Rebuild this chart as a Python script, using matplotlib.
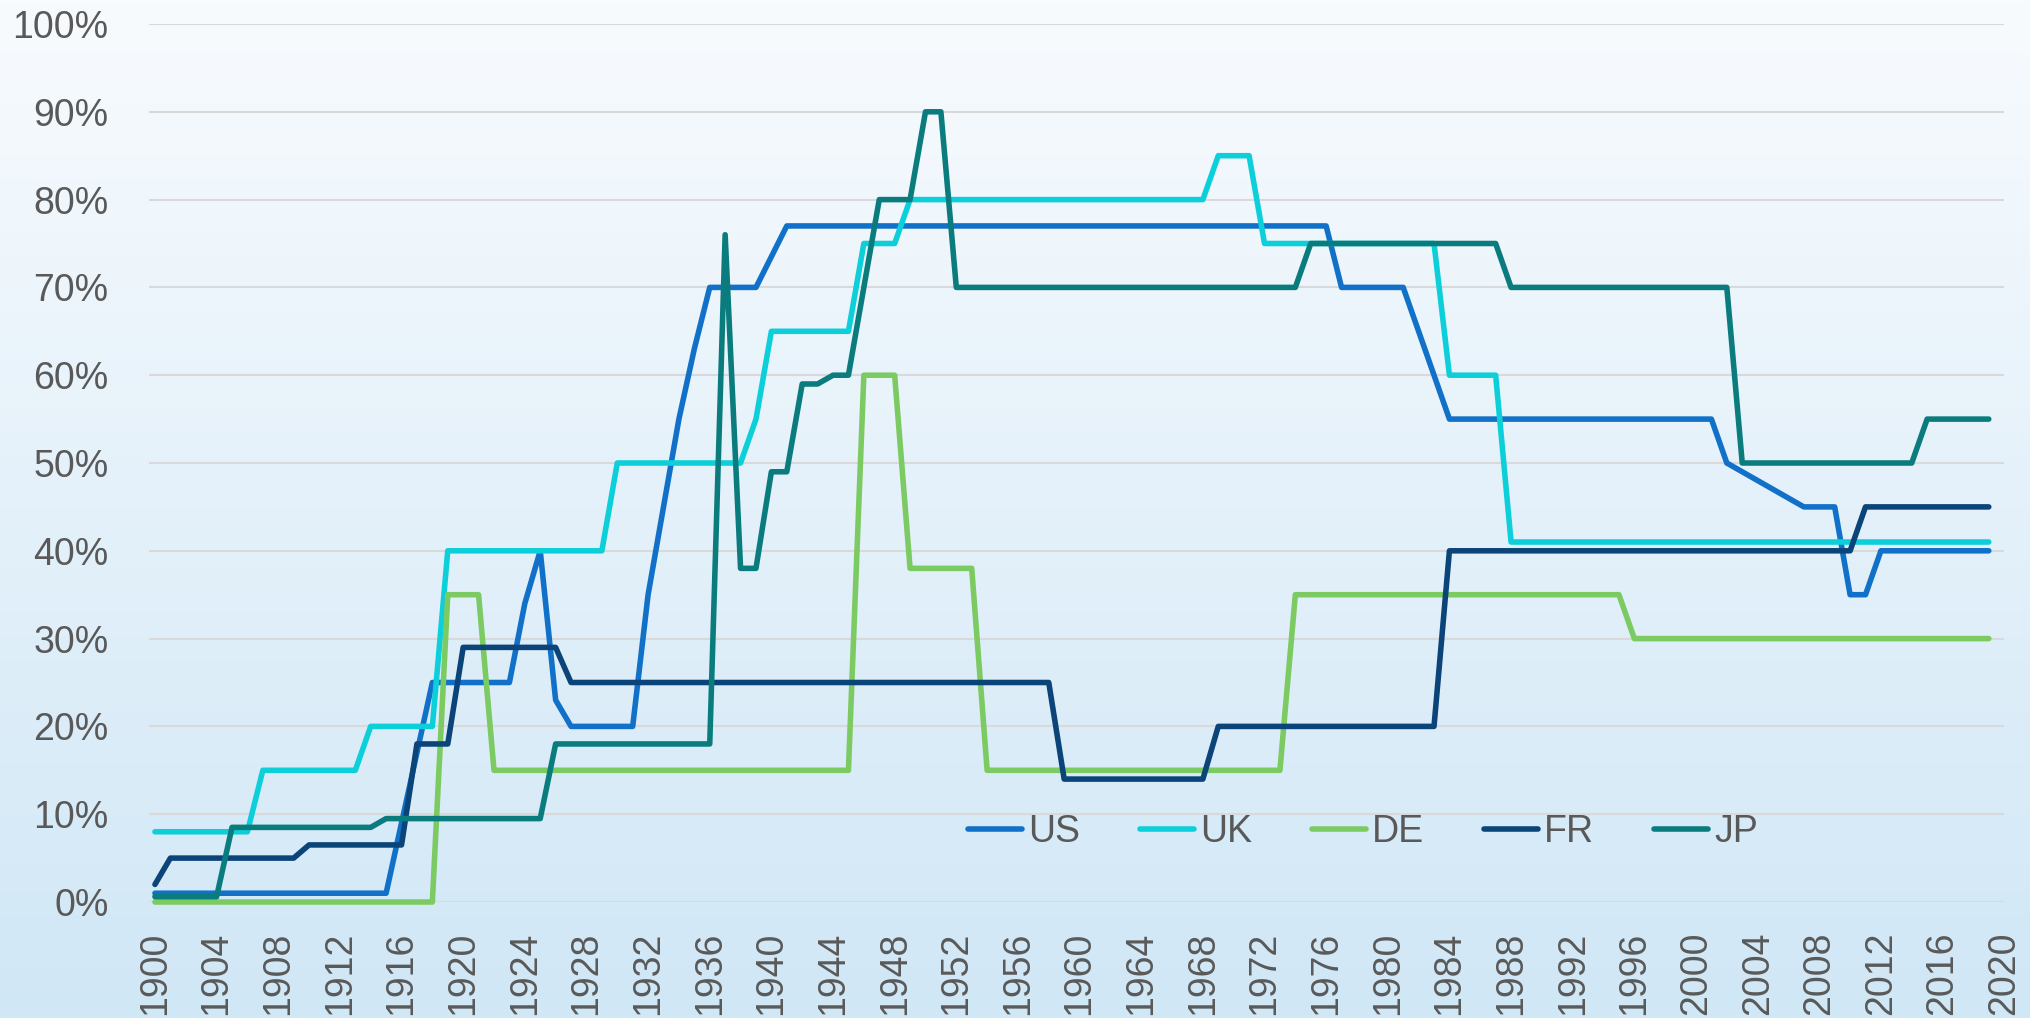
import numpy as np
import matplotlib
matplotlib.use("Agg")
import matplotlib.pyplot as plt
from matplotlib.colors import LinearSegmentedColormap

plt.rcParams['font.family'] = ['Liberation Sans', 'DejaVu Sans']

# corporate tax rates (%), one value per year 1900-2019
years = list(range(1900, 2020))

us = [1, 1, 1, 1, 1, 1, 1, 1, 1, 1,
      1, 1, 1, 1, 1, 1, 9, 17, 25, 25,
      25, 25, 25, 25, 34, 40, 23, 20, 20, 20,
      20, 20, 35, 45, 55, 63, 70, 70, 70, 70,
      73.5, 77, 77, 77, 77, 77, 77, 77, 77, 77,
      77, 77, 77, 77, 77, 77, 77, 77, 77, 77,
      77, 77, 77, 77, 77, 77, 77, 77, 77, 77,
      77, 77, 77, 77, 77, 77, 77, 70, 70, 70,
      70, 70, 65, 60, 55, 55, 55, 55, 55, 55,
      55, 55, 55, 55, 55, 55, 55, 55, 55, 55,
      55, 55, 50, 49, 48, 47, 46, 45, 45, 45,
      35, 35, 40, 40, 40, 40, 40, 40, 40, 40]

uk = [8, 8, 8, 8, 8, 8, 8, 15, 15, 15,
      15, 15, 15, 15, 20, 20, 20, 20, 20, 40,
      40, 40, 40, 40, 40, 40, 40, 40, 40, 40,
      50, 50, 50, 50, 50, 50, 50, 50, 50, 55,
      65, 65, 65, 65, 65, 65, 75, 75, 75, 80,
      80, 80, 80, 80, 80, 80, 80, 80, 80, 80,
      80, 80, 80, 80, 80, 80, 80, 80, 80, 85,
      85, 85, 75, 75, 75, 75, 75, 75, 75, 75,
      75, 75, 75, 75, 60, 60, 60, 60, 41, 41,
      41, 41, 41, 41, 41, 41, 41, 41, 41, 41,
      41, 41, 41, 41, 41, 41, 41, 41, 41, 41,
      41, 41, 41, 41, 41, 41, 41, 41, 41, 41]

de = [0, 0, 0, 0, 0, 0, 0, 0, 0, 0,
      0, 0, 0, 0, 0, 0, 0, 0, 0, 35,
      35, 35, 15, 15, 15, 15, 15, 15, 15, 15,
      15, 15, 15, 15, 15, 15, 15, 15, 15, 15,
      15, 15, 15, 15, 15, 15, 60, 60, 60, 38,
      38, 38, 38, 38, 15, 15, 15, 15, 15, 15,
      15, 15, 15, 15, 15, 15, 15, 15, 15, 15,
      15, 15, 15, 15, 35, 35, 35, 35, 35, 35,
      35, 35, 35, 35, 35, 35, 35, 35, 35, 35,
      35, 35, 35, 35, 35, 35, 30, 30, 30, 30,
      30, 30, 30, 30, 30, 30, 30, 30, 30, 30,
      30, 30, 30, 30, 30, 30, 30, 30, 30, 30]

fr = [2, 5, 5, 5, 5, 5, 5, 5, 5, 5,
      6.5, 6.5, 6.5, 6.5, 6.5, 6.5, 6.5, 18, 18, 18,
      29, 29, 29, 29, 29, 29, 29, 25, 25, 25,
      25, 25, 25, 25, 25, 25, 25, 25, 25, 25,
      25, 25, 25, 25, 25, 25, 25, 25, 25, 25,
      25, 25, 25, 25, 25, 25, 25, 25, 25, 14,
      14, 14, 14, 14, 14, 14, 14, 14, 14, 20,
      20, 20, 20, 20, 20, 20, 20, 20, 20, 20,
      20, 20, 20, 20, 40, 40, 40, 40, 40, 40,
      40, 40, 40, 40, 40, 40, 40, 40, 40, 40,
      40, 40, 40, 40, 40, 40, 40, 40, 40, 40,
      40, 45, 45, 45, 45, 45, 45, 45, 45, 45]

jp = [0.6, 0.6, 0.6, 0.6, 0.6, 8.5, 8.5, 8.5, 8.5, 8.5,
      8.5, 8.5, 8.5, 8.5, 8.5, 9.5, 9.5, 9.5, 9.5, 9.5,
      9.5, 9.5, 9.5, 9.5, 9.5, 9.5, 18, 18, 18, 18,
      18, 18, 18, 18, 18, 18, 18, 76, 38, 38,
      49, 49, 59, 59, 60, 60, 70, 80, 80, 80,
      90, 90, 70, 70, 70, 70, 70, 70, 70, 70,
      70, 70, 70, 70, 70, 70, 70, 70, 70, 70,
      70, 70, 70, 70, 70, 75, 75, 75, 75, 75,
      75, 75, 75, 75, 75, 75, 75, 75, 70, 70,
      70, 70, 70, 70, 70, 70, 70, 70, 70, 70,
      70, 70, 70, 50, 50, 50, 50, 50, 50, 50,
      50, 50, 50, 50, 50, 55, 55, 55, 55, 55]

labels = ['US', 'UK', 'DE', 'FR', 'JP']
colors = ['#1170C8', '#0DCFDA', '#7CCA62', '#0B4479', '#0B7C7E']
y_ticks = list(range(0, 101, 10))
x_ticks = list(range(1900, 2021, 4))

W, H = 2031, 1018
fig = plt.figure(figsize=(W / 100, H / 100), dpi=100)

# gradient background over the whole chart area
bg = fig.add_axes([0, 0, 1, 1], zorder=-10)
cmap = LinearSegmentedColormap.from_list('bg', ['#F8FBFE', '#D0E7F6'])
bg.imshow(np.linspace(0, 1, 256).reshape(-1, 1), aspect='auto', cmap=cmap,
          extent=[0, 1, 0, 1], origin='upper')
bg.axis('off')

x0, x1 = 148.8, 2004.2
y_top, y_bot = 24, 902
ax = fig.add_axes([x0 / W, 1 - y_bot / H, (x1 - x0) / W, (y_bot - y_top) / H])
ax.set_facecolor('none')

for series, lab, col in zip([us, uk, de, fr, jp], labels, colors):
    ax.plot(years, series, color=col, lw=4.0, label=lab, clip_on=False,
            solid_capstyle='round', solid_joinstyle='round')

ax.set_xlim(1899.6, 2020)
ax.set_ylim(0, 100)
ax.set_yticks(y_ticks)
ax.set_yticklabels([f'{v}%' for v in y_ticks])
ax.set_xticks(x_ticks)
ax.set_xticklabels([str(x) for x in x_ticks], rotation=90)
ax.tick_params(axis='y', length=0, labelsize=27, labelcolor='#595959', pad=29)
ax.tick_params(axis='x', length=0, labelsize=27, labelcolor='#595959', pad=21.5)
ax.yaxis.grid(True, color='#D9D9D9', lw=1.5)
ax.set_axisbelow(True)
for s in ax.spines.values():
    s.set_visible(False)

ax.legend(ncol=5, loc='center left', bbox_to_anchor=(968 / W, 1 - 832 / H),
          bbox_transform=fig.transFigure, frameon=False, handlelength=1.44,
          handletextpad=0.16, columnspacing=1.6, borderpad=0, borderaxespad=0,
          fontsize=27, labelcolor='#595959')

fig.savefig('out.png', dpi=100)
